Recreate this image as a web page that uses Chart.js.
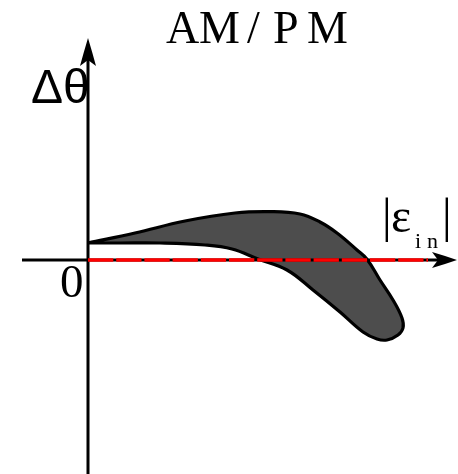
<!DOCTYPE html>
<html>
<head>
<meta charset="utf-8">
<script src="https://cdn.jsdelivr.net/npm/chart.js@4.4.1/dist/chart.umd.min.js"></script>
<style>
  html, body { margin: 0; padding: 0; background: #ffffff; }
  #wrap { width: 458px; height: 474px; }
</style>
</head>
<body>
<div id="wrap"><canvas id="c" width="458" height="474"></canvas></div>
<script>
// AM/PM conversion loop: phase deviation Δθ against input amplitude |ε_in| (arbitrary units).
// The loop is traced clockwise: rising branch first, round the tip, then the return branch.
const loopAmplitude = [0, 1.175, 2.425, 3.675, 4.55, 5.30, 5.80, 6.225, 6.725, 6.975, 7.30, 7.625, 7.85, 7.875, 7.75, 7.475, 7.225, 6.875, 6.30, 5.625, 4.975, 4.25, 3.60, 2.925, 1.80, 0.80, 0];
const loopPhase     = [0.425, 0.675, 0.975, 1.175, 1.21, 1.15, 0.95, 0.675, 0.25, 0.02, -0.50, -1.00, -1.45, -1.70, -1.875, -2.00, -1.975, -1.80, -1.30, -0.75, -0.25, 0.025, 0.275, 0.375, 0.425, 0.425, 0.425];

// Zero-deviation reference line
const refAmplitude = [0, 8.5];
const refPhase     = [0, 0];

const titleText = 'AM/PM';
const yLabel = 'Δθ';
const xLabelMain = 'ε';
const xLabelSub = ['i', 'n'];
const originLabel = '0';

const loopPoints = loopAmplitude.map((x, i) => ({ x: x, y: loopPhase[i] }));
const refPoints = refAmplitude.map((x, i) => ({ x: x, y: refPhase[i] }));

// Black axes with arrowheads, drawn right after the loop so the red reference sits on top
const axesPlugin = {
  id: 'arrowAxes',
  afterDatasetDraw(chart, args) {
    if (args.index !== 1) return;
    const ctx = chart.ctx;
    const xs = chart.scales.x, ys = chart.scales.y;
    const x0 = xs.getPixelForValue(0);
    const y0 = ys.getPixelForValue(0);
    ctx.save();
    ctx.strokeStyle = '#000';
    ctx.fillStyle = '#000';
    ctx.lineWidth = 3;
    ctx.lineCap = 'butt';
    // vertical axis
    ctx.beginPath();
    ctx.moveTo(x0, chart.height);
    ctx.lineTo(x0, 58);
    ctx.stroke();
    ctx.beginPath();
    ctx.moveTo(x0, 38);
    ctx.quadraticCurveTo(x0 + 4.5, 53, x0 + 8, 66);
    ctx.lineTo(x0, 60);
    ctx.lineTo(x0 - 8, 66);
    ctx.quadraticCurveTo(x0 - 4.5, 53, x0, 38);
    ctx.fill();
    // horizontal axis
    ctx.beginPath();
    ctx.moveTo(22, y0);
    ctx.lineTo(440, y0);
    ctx.stroke();
    ctx.beginPath();
    ctx.moveTo(457, y0);
    ctx.quadraticCurveTo(444, y0 - 4.5, 432, y0 - 8);
    ctx.lineTo(438, y0);
    ctx.lineTo(432, y0 + 8);
    ctx.quadraticCurveTo(444, y0 + 4.5, 457, y0);
    ctx.fill();
    ctx.restore();
  },
  afterDraw(chart) {
    const ctx = chart.ctx;
    ctx.save();
    ctx.fillStyle = '#000';
    ctx.textBaseline = 'alphabetic';
    ctx.textAlign = 'left';
    // title, spaced like math-mode text
    ctx.font = '46px "Liberation Serif", "DejaVu Serif", serif';
    const titleX = [166, 199, 247, 273, 307];
    titleText.split('').forEach((ch, i) => ctx.fillText(ch, titleX[i], 43));
    // y label
    ctx.font = '48px "Liberation Sans", Arial, sans-serif';
    ctx.fillText(yLabel, 31, 103);
    // origin
    ctx.font = '47px "Liberation Serif", "DejaVu Serif", serif';
    ctx.fillText(originLabel, 60, 297);
    // |ε_in|
    ctx.font = '48px "Liberation Serif", "DejaVu Serif", serif';
    ctx.fillText('|', 382, 232);
    ctx.fillText(xLabelMain, 391, 232);
    ctx.fillText('|', 442, 232);
    ctx.font = '22px "Liberation Serif", "DejaVu Serif", serif';
    ctx.fillText(xLabelSub[0], 415, 248);
    ctx.fillText(xLabelSub[1], 427, 248);
    ctx.restore();
  }
};

new Chart(document.getElementById('c'), {
  type: 'line',
  data: {
    datasets: [
      {
        label: 'reference',
        data: refPoints,
        borderColor: '#ff0000',
        borderWidth: 3.5,
        borderDash: [25.3, 2.9],
        borderCapStyle: 'butt',
        pointRadius: 0,
        fill: false,
        tension: 0
      },
      {
        label: 'AM/PM loop',
        data: loopPoints,
        borderColor: '#000000',
        borderWidth: 3.2,
        backgroundColor: '#4d4d4d',
        fill: 'shape',
        pointRadius: 0,
        tension: 0.4,
        cubicInterpolationMode: 'default',
        borderJoinStyle: 'round'
      }
    ]
  },
  options: {
    responsive: false,
    animation: false,
    devicePixelRatio: 1,
    layout: { padding: 0 },
    plugins: {
      legend: { display: false },
      tooltip: { enabled: false },
      title: { display: false }
    },
    scales: {
      x: { type: 'linear', display: false, min: -2.2, max: 9.25 },
      y: { type: 'linear', display: false, min: -5.35, max: 6.5 }
    }
  },
  plugins: [axesPlugin]
});
</script>
</body>
</html>
